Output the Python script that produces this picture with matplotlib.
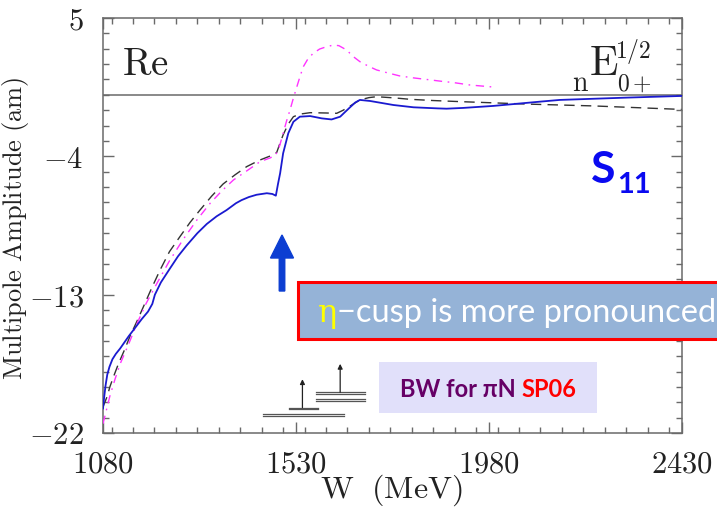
import matplotlib
matplotlib.use("Agg")
import matplotlib.pyplot as plt
from matplotlib.patches import Rectangle, FancyArrow
from matplotlib.ticker import MultipleLocator, FixedLocator, FixedFormatter

plt.rcParams['mathtext.fontset'] = 'cm'
plt.rcParams['lines.scale_dashes'] = False

# ---------------- data ----------------
blue_w = [1080, 1083, 1086, 1090, 1095, 1102, 1110, 1120, 1130, 1140, 1151, 1170, 1185, 1195, 1201,
          1215, 1236, 1255, 1275, 1300, 1322, 1345, 1368, 1390, 1403, 1420, 1438, 1462,
          1475, 1483, 1488, 1493, 1500, 1512, 1524, 1539, 1563, 1590, 1613, 1633, 1645,
          1656, 1668, 1679, 1703, 1757, 1804, 1860, 1881, 1920, 1990, 2100, 2145, 2301, 2430]
blue_a = [-20.4, -19.6, -18.9, -18.2, -17.7, -17.2, -16.85, -16.5, -16.1, -15.7, -15.3, -14.6, -14.1, -13.6, -13.0,
          -12.2, -11.3, -10.5, -9.8, -9.0, -8.4, -7.9, -7.5, -7.05, -6.85, -6.65, -6.5, -6.4,
          -6.45, -6.56, -5.8, -5.1, -3.8, -2.5, -1.75, -1.42, -1.38, -1.53, -1.6, -1.42, -1.1,
          -0.81, -0.5, -0.33, -0.4, -0.66, -0.81, -0.88, -0.9, -0.85, -0.72, -0.44, -0.33, -0.18, -0.07]

dash_w = [1080, 1090, 1096, 1105, 1116, 1130, 1143, 1158, 1174, 1193, 1213, 1235, 1260, 1283,
          1306, 1333, 1360, 1388, 1415, 1445, 1477, 1485, 1492, 1500, 1512, 1524, 1540, 1563,
          1600, 1625, 1640, 1656, 1679, 1700, 1718, 1760, 1796, 1850, 1912, 2068, 2223, 2430]
dash_a = [-20.3, -19.6, -19.0, -18.3, -17.5, -16.6, -15.7, -14.8, -13.8, -12.6, -11.4, -10.2, -9.2, -8.3,
          -7.5, -6.6, -5.8, -5.2, -4.67, -4.25, -3.9, -3.75, -3.2, -2.6, -1.9, -1.42, -1.25, -1.16,
          -1.18, -1.2, -1.0, -0.73, -0.33, -0.18, -0.12, -0.2, -0.29, -0.37, -0.44, -0.6, -0.72, -0.95]

mag_w = [1080, 1088, 1096, 1108, 1120, 1140, 1159, 1180, 1205, 1235, 1267, 1300, 1330, 1357,
         1384, 1415, 1446, 1470, 1483, 1492, 1500, 1508, 1516, 1524, 1532, 1540, 1547, 1558,
         1570, 1585, 1601, 1617, 1630, 1648, 1663, 1679, 1700, 1718, 1745, 1772, 1805, 1835,
         1870, 1897, 1936, 1998]
mag_a = [-21.4, -20.5, -19.6, -18.5, -17.5, -16.2, -14.9, -13.6, -12.3, -10.8, -9.4, -8.1, -7.05, -6.25,
         -5.54, -4.95, -4.35, -4.1, -3.9, -3.3, -2.5, -1.7, -0.99, -0.2, 0.53, 1.25, 1.83, 2.35,
         2.7, 2.98, 3.13, 3.24, 3.2, 2.92, 2.5, 2.16, 1.85, 1.62, 1.42, 1.23, 1.1, 1.0,
         0.88, 0.8, 0.64, 0.49]

x_ticks = [1080, 1530, 1980, 2430]
y_ticks = [-22, -13, -4, 5]
x_tick_labels = ['$1080$', '$1530$', '$1980$', '$2430$']
y_tick_labels = ['$-22$', '$-13$', '$-4$', '$5$']

# BW resonance sketch (W positions, amplitude levels)
bw_levels = [(1452, 1643, -20.78), (1452, 1643, -20.9), (1514, 1581, -20.35), (1514, 1581, -20.47),
             (1576, 1692, -19.35), (1576, 1692, -19.48), (1576, 1692, -19.8), (1576, 1692, -19.92)]
bw_arrows = [(1545, -20.35, -18.5), (1633, -19.35, -17.5)]

# ---------------- figure ----------------
W, H = 717, 509
fig = plt.figure(figsize=(W / 100, H / 100), dpi=100)
ax = fig.add_axes([103 / W, 1 - 433 / H, (682 - 103) / W, (433 - 18) / H])

gray = '#6a6a6a'
ax.axhline(0, color='#808080', lw=1.3, zorder=1)
ax.plot(dash_w, dash_a, color='#333333', lw=1.0, dashes=(7.5, 4.5), zorder=2)
ax.plot(mag_w, mag_a, color='#ff33ff', lw=1.0, dashes=(6, 4, 1.2, 4), zorder=3)
ax.plot(blue_w, blue_a, color='#1a1ad0', lw=1.3, zorder=4)

ax.set_xlim(1080, 2430)
ax.set_ylim(-22, 5)
ax.xaxis.set_major_locator(FixedLocator(x_ticks))
ax.xaxis.set_major_formatter(FixedFormatter(x_tick_labels))
ax.yaxis.set_major_locator(FixedLocator(y_ticks))
ax.yaxis.set_major_formatter(FixedFormatter(y_tick_labels))
ax.xaxis.set_minor_locator(MultipleLocator(50))
ax.yaxis.set_minor_locator(MultipleLocator(1))
ax.tick_params(which='both', direction='in', top=True, right=True, color=gray, width=1.0)
ax.tick_params(which='major', length=8, labelsize=22, labelcolor='#222222')
ax.tick_params(axis='x', which='major', pad=12)
ax.tick_params(axis='y', which='major', pad=14)
ax.tick_params(which='minor', length=4.5)
for s in ax.spines.values():
    s.set_color(gray)
    s.set_linewidth(1.1)

def px(x, y):
    return x / W, 1 - y / H

# axis labels
fig.text(*px(16, 228), r'$\mathrm{Multipole\ Amplitude\ (am)}$', rotation=90,
         ha='center', va='center', fontsize=19, color='#222222')
fig.text(*px(391, 490), r'$\mathrm{W\ \ (MeV)}$', ha='center', va='center',
         fontsize=23, color='#222222')

# clipped title remnants
fig.text(*px(372, -7), r'$($', ha='center', va='baseline', fontsize=20, color='#222222')
fig.text(*px(448, -7), r'$)$', ha='center', va='baseline', fontsize=20, color='#222222')

# Re label
fig.text(*px(122, 75), r'$\mathrm{Re}$', ha='left', va='baseline', fontsize=28, color='#222222')
# nE label
fig.text(*px(572, 91), r'$\mathrm{n}$', ha='left', va='baseline', fontsize=20, color='#222222')
fig.text(*px(589, 75), r'$\mathrm{E}$', ha='left', va='baseline', fontsize=30, color='#222222')
fig.text(*px(615, 58), r'$1/2$', ha='left', va='baseline', fontsize=17, color='#222222')
fig.text(*px(617, 91), r'$0+$', ha='left', va='baseline', fontsize=17, color='#222222')

# blue arrow
arr = FancyArrow(*px(282, 291), 0, (291 - 235) / H, width=5.5 / W, head_width=23 / W,
                 head_length=23 / H, length_includes_head=True, transform=fig.transFigure,
                 color='#0c3ed2', zorder=10)
fig.add_artist(arr)

# boxes
fig.add_artist(Rectangle(px(298, 339), (800 - 298) / W, (339 - 282) / H, transform=fig.transFigure,
                         facecolor='#95b3d7', edgecolor='#ff0000', lw=2.2, zorder=10))
fig.add_artist(Rectangle(px(379, 413), (597 - 379) / W, (413 - 362) / H, transform=fig.transFigure,
                         facecolor='#e1e0fa', edgecolor='none', zorder=10))

# chained texts: each piece placed after measuring the previous one
renderer = fig.canvas.get_renderer()

def chain(x0, y0, pieces):
    x = x0
    for txt, kw in pieces:
        t = fig.text(*px(x, y0), txt, ha='left', va='baseline', zorder=11, **kw)
        x += t.get_window_extent(renderer=renderer).width
    return x

sans = ['Lato', 'DejaVu Sans']
chain(318, 322, [('η', dict(fontsize=23, color='#ffff00', family=['DejaVu Serif'])),
                 ('−cusp is more pronounced', dict(fontsize=23.5, color='white', family=sans))])
chain(400, 397, [('BW for πN\u00a0', dict(fontsize=17, fontweight='bold', color='#660066', family=sans)),
                 ('SP06', dict(fontsize=17, fontweight='bold', color='#ff0000', family=sans))])
fig.text(*px(591, 183), 'S', ha='left', va='baseline', fontsize=32, fontweight='bold',
         family=sans, color='#0a0af0')
fig.text(*px(617, 193), '11', ha='left', va='baseline', fontsize=21, fontweight='bold',
         family=sans, color='#0a0af0')

# BW sketch
for x0, x1, lev in bw_levels:
    ax.plot([x0, x1], [lev, lev], color='#555555', lw=0.9, zorder=5, clip_on=False)
for xa, y0, y1 in bw_arrows:
    ax.annotate('', xy=(xa, y1), xytext=(xa, y0),
                arrowprops=dict(arrowstyle='-|>', color='#222222', lw=0.9,
                                mutation_scale=7, shrinkA=0, shrinkB=0), zorder=5)

fig.savefig('out.png', dpi=100)
